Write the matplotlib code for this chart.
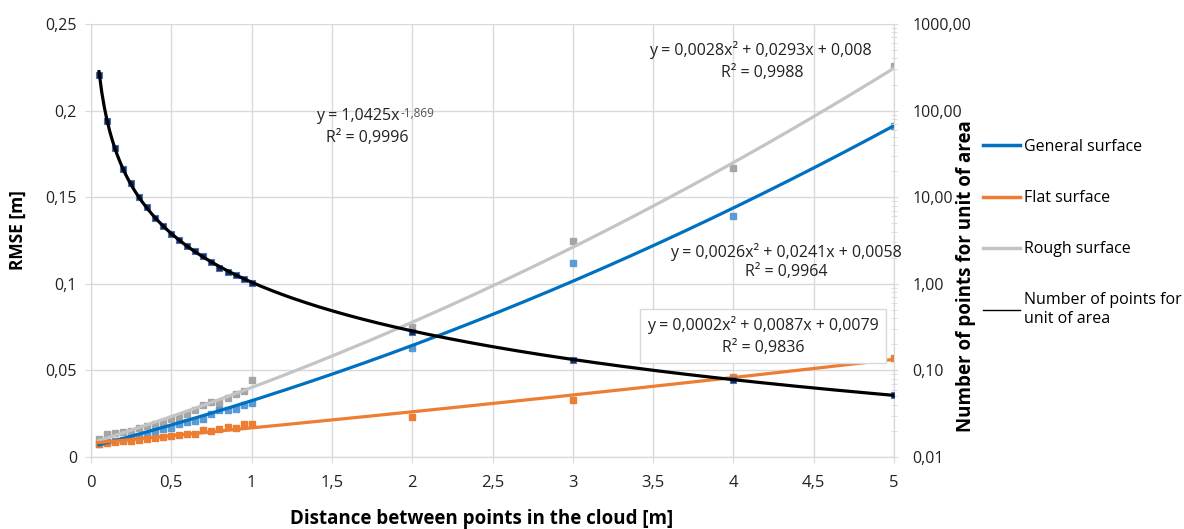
import matplotlib
matplotlib.use("Agg")
import matplotlib.pyplot as plt
from matplotlib.lines import Line2D
import numpy as np

plt.rcParams['font.family'] = ['Open Sans', 'DejaVu Sans']

# data
dist = [0.05, 0.1, 0.15, 0.2, 0.25, 0.3, 0.35, 0.4, 0.45, 0.5,
        0.55, 0.6, 0.65, 0.7, 0.75, 0.8, 0.85, 0.9, 0.95, 1.0,
        2, 3, 4, 5]
rmse_general = [0.0075, 0.0085, 0.0092, 0.010, 0.011, 0.012, 0.013, 0.015, 0.016, 0.017,
                0.019, 0.020, 0.021, 0.022, 0.025, 0.027, 0.027, 0.028, 0.030, 0.031,
                0.063, 0.112, 0.139, 0.191]
rmse_flat = [0.0073, 0.0078, 0.0085, 0.009, 0.0095, 0.010, 0.0105, 0.011, 0.0115, 0.012,
             0.0125, 0.013, 0.013, 0.0155, 0.015, 0.016, 0.0175, 0.017, 0.019, 0.019,
             0.023, 0.033, 0.046, 0.057]
rmse_rough = [0.0103, 0.013, 0.0138, 0.0142, 0.015, 0.0165, 0.0178, 0.0188, 0.020, 0.0222,
              0.0232, 0.0248, 0.027, 0.0302, 0.0318, 0.0312, 0.0338, 0.0362, 0.0382, 0.0443,
              0.075, 0.125, 0.167, 0.226]
points_per_area = [256, 75.2, 37.0, 21.4, 14.4, 10.0, 7.7, 5.8, 4.6, 3.8,
                   3.18, 2.73, 2.37, 2.09, 1.79, 1.54, 1.37, 1.25, 1.13, 1.02,
                   0.277, 0.131, 0.077, 0.0515]

# trendline coefficients as printed on the chart
coef_general = [0.0026, 0.0241, 0.0058]
coef_flat = [0.0002, 0.0087, 0.0079]
coef_rough = [0.0028, 0.0293, 0.008]
power_a, power_b = 1.0425, -1.869

c_blue, c_orange, c_gray = '#0070C0', '#ED7D31', '#C4C4C4'
m_blue, m_orange, m_gray = '#5B9BD5', '#ED7D31', '#A5A5A5'
grid_c = '#D9D9D9'

fig = plt.figure(figsize=(11.84, 5.29), dpi=100)
ax = fig.add_axes([91/1184, 1-457/529, (894-91)/1184, (457-24)/529])
ax2 = ax.twinx()

xt = np.linspace(min(dist), max(dist), 300)

ax.plot(dist, rmse_rough, 's', color=m_gray, ms=5, zorder=3)
ax.plot(dist, rmse_general, 's', color=m_blue, ms=5, zorder=3)
ax.plot(dist, rmse_flat, 's', color=m_orange, ms=5, zorder=3)
ax.plot(xt, np.polyval(coef_rough, xt), color=c_gray, lw=2.3, zorder=4)
ax.plot(xt, np.polyval(coef_general, xt), color=c_blue, lw=2.3, zorder=4)
ax.plot(xt, np.polyval(coef_flat, xt), color=c_orange, lw=2.3, zorder=4)

ax2.plot(dist, points_per_area, 's', color='#1F2A44', mec='#4472C4', mew=0.8, ms=5, zorder=3)
ax2.plot(xt, power_a * xt ** power_b, color='black', lw=2.3, zorder=4)

ax.set_xlim(0, 5)
ax.set_ylim(0, 0.25)
ax2.set_yscale('log')
ax2.set_ylim(0.01, 1000)

xticks = [0, 0.5, 1, 1.5, 2, 2.5, 3, 3.5, 4, 4.5, 5]
yticks = [0, 0.05, 0.1, 0.15, 0.2, 0.25]
y2ticks = [0.01, 0.1, 1, 10, 100, 1000]
ax.set_xticks(xticks)
ax.set_xticklabels([f'{v:g}'.replace('.', ',') for v in xticks], fontsize=12)
ax.set_yticks(yticks)
ax.set_yticklabels([f'{v:g}'.replace('.', ',') for v in yticks], fontsize=11.5)
ax2.set_yticks(y2ticks)
ax2.set_yticklabels([f'{v:.2f}'.replace('.', ',') for v in y2ticks], fontsize=11.5)

ax.grid(True, color=grid_c, lw=1)
ax.set_axisbelow(True)
for a in (ax, ax2):
    for s in a.spines.values():
        s.set_color(grid_c)
    a.spines['top'].set_visible(False)
ax.tick_params(axis='both', color=grid_c, length=4, colors='#222222', pad=6)
ax.tick_params(axis='x', pad=9)
ax2.tick_params(axis='y', which='major', color=grid_c, length=6, direction='inout', pad=10, colors='#222222')
ax2.tick_params(axis='y', which='minor', color=grid_c, length=5, direction='inout')

# axis titles
fig.text(18/1184, 1-230/529, 'RMSE [m]', rotation=90, ha='center', va='center',
         fontsize=12.5, fontweight='bold')
fig.text(966/1184, 1-276/529, 'Number of points for unit of area', rotation=90,
         ha='center', va='center', fontsize=13.5, fontweight='bold')
fig.text(482/1184, 1-519/529, 'Distance between points in the cloud [m]', ha='center', va='center',
         fontsize=13.5, fontweight='bold')

# trendline equations
eq_font = dict(fontsize=11.5, ha='center', va='center', color='#222222')
t_pow = fig.text(358/1184, 1-116/529, 'y = 1,0425x', **eq_font)
ax.annotate('-1,869', xy=(1, 1), xycoords=t_pow, xytext=(0.5, 1), textcoords='offset points',
            fontsize=8.5, color='#555555', ha='left', va='top')
fig.text(367/1184, 1-138/529, 'R² = 0,9996', **eq_font)
fig.text(760/1184, 1-50/529, 'y = 0,0028x² + 0,0293x + 0,008', **eq_font)
fig.text(762/1184, 1-73/529, 'R² = 0,9988', **eq_font)
fig.text(786/1184, 1-252/529, 'y = 0,0026x² + 0,0241x + 0,0058', **eq_font)
fig.text(786/1184, 1-272/529, 'R² = 0,9964', **eq_font)
fig.text(763/1184, 1-336/529, 'y = 0,0002x² + 0,0087x + 0,0079\nR² = 0,9836',
         linespacing=1.5, bbox=dict(boxstyle='square,pad=0.45', fc='white', ec=grid_c, lw=1),
         **eq_font)

handles = [Line2D([], [], color=c_blue, lw=2.5),
           Line2D([], [], color=c_orange, lw=2.5),
           Line2D([], [], color=c_gray, lw=2.5),
           Line2D([], [], color='black', lw=1)]
labels = ['General surface', 'Flat surface', 'Rough surface', 'Number of points for\nunit of area']
fig.legend(handles, labels, loc='upper left', bbox_to_anchor=(983/1184, 1-139/529),
           frameon=False, fontsize=11.5, handlelength=2.3, handletextpad=0.25,
           labelspacing=2.2, borderaxespad=0, borderpad=0)

fig.savefig('out.png', dpi=100)
